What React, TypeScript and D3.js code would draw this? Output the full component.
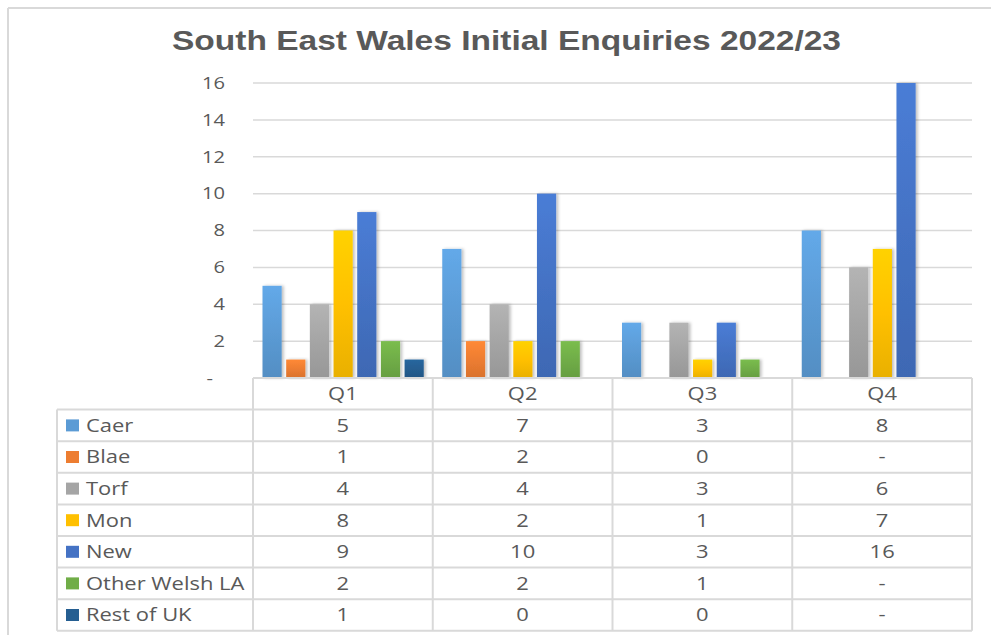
import React, { useEffect, useRef } from 'react';
import * as d3 from 'd3';

const TITLE = 'South East Wales Initial Enquiries 2022/23';
const QUARTERS = ['Q1', 'Q2', 'Q3', 'Q4'];
const SERIES = ['Caer', 'Blae', 'Torf', 'Mon', 'New', 'Other Welsh LA', 'Rest of UK'];
const CAER = [5, 7, 3, 8];
const BLAE = [1, 2, 0, null];
const TORF = [4, 4, 3, 6];
const MON = [8, 2, 1, 7];
const NEW = [9, 10, 3, 16];
const OTHER = [2, 2, 1, null];
const REST = [1, 0, 0, null];
const Y_TICKS = [0, 2, 4, 6, 8, 10, 12, 14, 16];

const VALUES = [CAER, BLAE, TORF, MON, NEW, OTHER, REST];
const COLORS = ['#5B9BD5', '#ED7D31', '#A5A5A5', '#FFC000', '#4472C4', '#70AD47', '#255E91'];

const W = 991;
const H = 635;
const TEXT = '#595959';
const GRID = '#d9d9d9';
const STRETCH = 1.22; // the source picture is widened horizontally

function stretchedText(parent, x, y, str, anchor)
{
    return parent.append('text')
        .attr('transform', `translate(${ x },${ y }) scale(${ STRETCH },1)`)
        .attr('dy', '0.35em')
        .attr('text-anchor', anchor)
        .text(str);
}

function drawChart(svgEl)
{
    const svg = d3.select(svgEl);
    svg.selectAll('*').remove();

    const plot = { left: 253, right: 972, top: 83, bottom: 378 };
    const table = { left: 57, top: 378, rowH: 31.6 };

    const defs = svg.append('defs');
    COLORS.forEach((c, i) =>
    {
        const g = defs.append('linearGradient')
            .attr('id', `grad${ i }`)
            .attr('x1', 0).attr('y1', 0).attr('x2', 0).attr('y2', 1);
        g.append('stop').attr('offset', '0%').attr('stop-color', d3.color(c).brighter(0.25).formatHex());
        g.append('stop').attr('offset', '50%').attr('stop-color', c);
        g.append('stop').attr('offset', '100%').attr('stop-color', d3.color(c).darker(0.25).formatHex());
    });
    const shadow = defs.append('filter').attr('id', 'shadow')
        .attr('x', '-30%').attr('y', '-10%').attr('width', '160%').attr('height', '120%');
    shadow.append('feDropShadow')
        .attr('dx', 2).attr('dy', 0).attr('stdDeviation', 1.5)
        .attr('flood-color', '#000').attr('flood-opacity', 0.25);

    // outer frame (top and left edges visible)
    svg.append('line').attr('x1', 8).attr('x2', W).attr('y1', 8).attr('y2', 8)
        .attr('stroke', GRID).attr('stroke-width', 2);
    svg.append('line').attr('x1', 8).attr('x2', 8).attr('y1', 8).attr('y2', H)
        .attr('stroke', GRID).attr('stroke-width', 2);

    svg.append('text')
        .attr('x', 172).attr('y', 50)
        .attr('textLength', 669)
        .attr('lengthAdjust', 'spacingAndGlyphs')
        .attr('font-family', 'Liberation Sans, Arial, sans-serif')
        .attr('font-weight', 'bold')
        .attr('font-size', 27)
        .attr('fill', TEXT)
        .text(TITLE);

    const y = d3.scaleLinear().domain([0, 16]).range([plot.bottom, plot.top]);
    const x0 = d3.scaleBand().domain(QUARTERS).range([plot.left, plot.right]);
    const x1 = d3.scaleBand().domain(SERIES).range([9.5, x0.bandwidth() - 9]).paddingInner(0.19);

    // gridlines
    svg.append('g').selectAll('line')
        .data(Y_TICKS.filter((t) => t > 0))
        .join('line')
        .attr('x1', plot.left).attr('x2', plot.right)
        .attr('y1', (d) => y(d)).attr('y2', (d) => y(d))
        .attr('stroke', GRID).attr('stroke-width', 1.5);

    // y tick labels
    const yAxis = svg.append('g')
        .attr('font-family', 'Open Sans, sans-serif')
        .attr('font-size', 16.5)
        .attr('fill', TEXT);
    Y_TICKS.forEach((t) =>
    {
        if (t === 0) stretchedText(yAxis, 213, y(t), '-', 'end');
        else stretchedText(yAxis, 225, y(t), String(t), 'end');
    });

    // bars
    const groups = svg.append('g').selectAll('g')
        .data(QUARTERS)
        .join('g')
        .attr('transform', (q) => `translate(${ x0(q) },0)`);
    groups.selectAll('rect')
        .data((q, qi) => SERIES.map((s, si) => ({ s, si, v: VALUES[si][qi] })))
        .join('rect')
        .filter((d) => d.v)
        .attr('x', (d) => x1(d.s))
        .attr('width', x1.bandwidth())
        .attr('y', (d) => y(d.v))
        .attr('height', (d) => y(0) - y(d.v))
        .attr('fill', (d) => `url(#grad${ d.si })`)
        .attr('filter', 'url(#shadow)');

    // data table
    const nRows = SERIES.length + 1;
    const tableBottom = table.top + nRows * table.rowH;
    const tg = svg.append('g').attr('stroke', GRID).attr('stroke-width', 2);
    tg.append('line').attr('x1', plot.left).attr('x2', plot.right)
        .attr('y1', table.top).attr('y2', table.top);
    for (let r = 1; r <= nRows; r += 1)
    {
        const yy = table.top + r * table.rowH;
        tg.append('line').attr('x1', table.left).attr('x2', plot.right).attr('y1', yy).attr('y2', yy);
    }
    tg.append('line').attr('x1', table.left).attr('x2', table.left)
        .attr('y1', table.top + table.rowH).attr('y2', tableBottom);
    QUARTERS.forEach((q) =>
    {
        tg.append('line').attr('x1', x0(q)).attr('x2', x0(q)).attr('y1', table.top).attr('y2', tableBottom);
    });
    tg.append('line').attr('x1', plot.right).attr('x2', plot.right).attr('y1', table.top).attr('y2', tableBottom);

    const txt = svg.append('g')
        .attr('font-family', 'Open Sans, sans-serif')
        .attr('font-size', 18)
        .attr('fill', TEXT);

    QUARTERS.forEach((q) =>
    {
        stretchedText(txt, x0(q) + x0.bandwidth() / 2, table.top + table.rowH / 2, q, 'middle');
    });

    SERIES.forEach((s, si) =>
    {
        const cy = table.top + (si + 1.5) * table.rowH;
        svg.append('rect')
            .attr('x', 66).attr('y', cy - 6)
            .attr('width', 13).attr('height', 12)
            .attr('fill', COLORS[si]);
        stretchedText(txt, 86, cy, s, 'start');
        QUARTERS.forEach((q, qi) =>
        {
            const v = VALUES[si][qi];
            stretchedText(txt, x0(q) + x0.bandwidth() / 2, cy, v === null ? '-' : String(v), 'middle');
        });
    });
}

export default function App()
{
    const svgRef = useRef(null);

    useEffect(() =>
    {
        drawChart(svgRef.current);
    }, []);

    return (
        <svg
            ref={ svgRef }
            width={ W }
            height={ H }
            style={ { position: 'absolute', left: 0, top: 0, background: '#fff' } }
        />
    );
}
